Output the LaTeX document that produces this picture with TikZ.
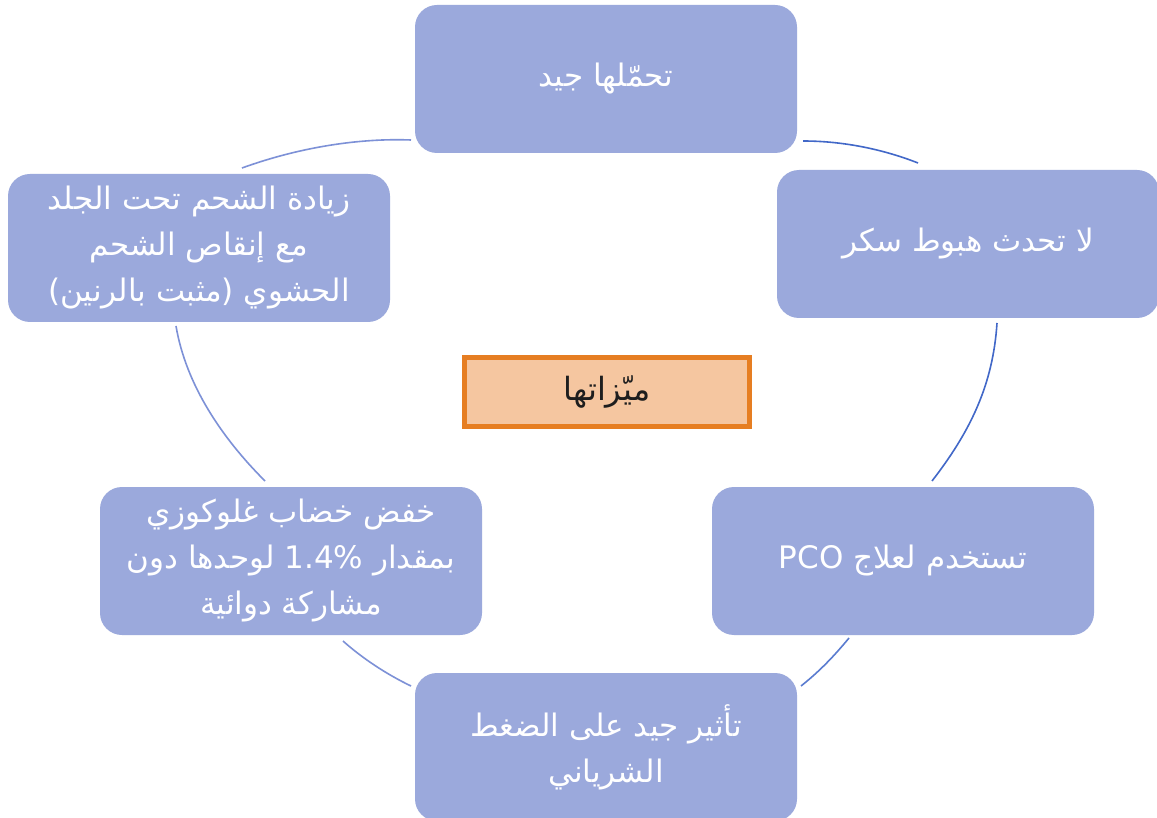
\documentclass[tikz,border=0pt]{standalone}
\usepackage{fontspec}
\newfontfamily\arabicfont[Script=Arabic]{DejaVu Sans}
\newfontfamily\latinfont{DejaVu Sans}
\TeXXeTstate=1
\definecolor{boxfill}{RGB}{155,169,220}
\definecolor{ctrfill}{RGB}{245,198,160}
\definecolor{ctrline}{RGB}{230,126,34}
\definecolor{darkarc}{RGB}{66,104,200}
\definecolor{midarc}{RGB}{90,124,208}
\definecolor{lightarc}{RGB}{125,145,215}
\definecolor{ctrtext}{RGB}{30,30,30}
\tikzset{
  box/.style={fill=boxfill, rounded corners=22pt, minimum width=382pt, minimum height=148pt,
    text=white, align=center, font=\arabicfont\fontsize{31}{46}\selectfont, inner sep=0pt},
  ctr/.style={fill=ctrfill, draw=ctrline, line width=5pt, minimum width=285pt, minimum height=68pt,
    text=ctrtext, font=\arabicfont\fontsize{32}{36}\selectfont, inner sep=0pt},
  arc/.style={line width=1.6pt}
}
\begin{document}
\begin{tikzpicture}[x=1pt,y=-1pt]
\useasboundingbox (0,0) rectangle (1157,818);
\clip (0,0) rectangle (1157,818);
\fill[white] (0,0) rectangle (1157,818);
\node[box] (top) at (606,79) {\beginR تحمّلها جيد\endR};
\node[box] (rt) at (968,244) {\beginR لا تحدث هبوط سكر\endR};
\node[box] (rb) at (903,561) {\beginR تستخدم لعلاج \beginL{\latinfont PCO}\endL\endR};
\node[box] (bot) at (606,747) {\beginR تأثير جيد على الضغط\endR\\\beginR الشرياني\endR};
\node[box] (lb) at (291,561) {\beginR خفض خضاب غلوكوزي\endR\\\beginR بمقدار \beginL{\latinfont 1.4\%}\endL{} لوحدها دون\endR\\\beginR مشاركة دوائية\endR};
\node[box] (lt) at (199,248) {\beginR زيادة الشحم تحت الجلد\endR\\\beginR مع إنقاص الشحم\endR\\\beginR الحشوي (مثبت بالرنين)\endR};
\node[ctr] (c) at (607,392) {\beginR ميّزاتها\endR};
% connector end points
\coordinate (a1) at (803,141); \coordinate (b1) at (918,163);
\coordinate (a2) at (997,323); \coordinate (b2) at (932,481);
\coordinate (a3) at (849,638); \coordinate (b3) at (801,686);
\coordinate (a4) at (411,686); \coordinate (b4) at (343,641);
\coordinate (a5) at (265,481); \coordinate (b5) at (176,326);
\coordinate (a6) at (242,168); \coordinate (b6) at (411,140);
\draw[arc, darkarc] (a1) .. controls (845,141) and (885,150) .. (b1);
\draw[arc, darkarc] (a2) .. controls (993,385) and (970,432) .. (b2);
\draw[arc, midarc] (a3) .. controls (835,655) and (820,671) .. (b3);
\draw[arc, lightarc] (a4) .. controls (386,674) and (362,658) .. (b4);
\draw[arc, lightarc] (a5) .. controls (222,438) and (186,385) .. (b5);
\draw[arc, lightarc] (a6) .. controls (300,147) and (360,138) .. (b6);
\end{tikzpicture}
\end{document}
